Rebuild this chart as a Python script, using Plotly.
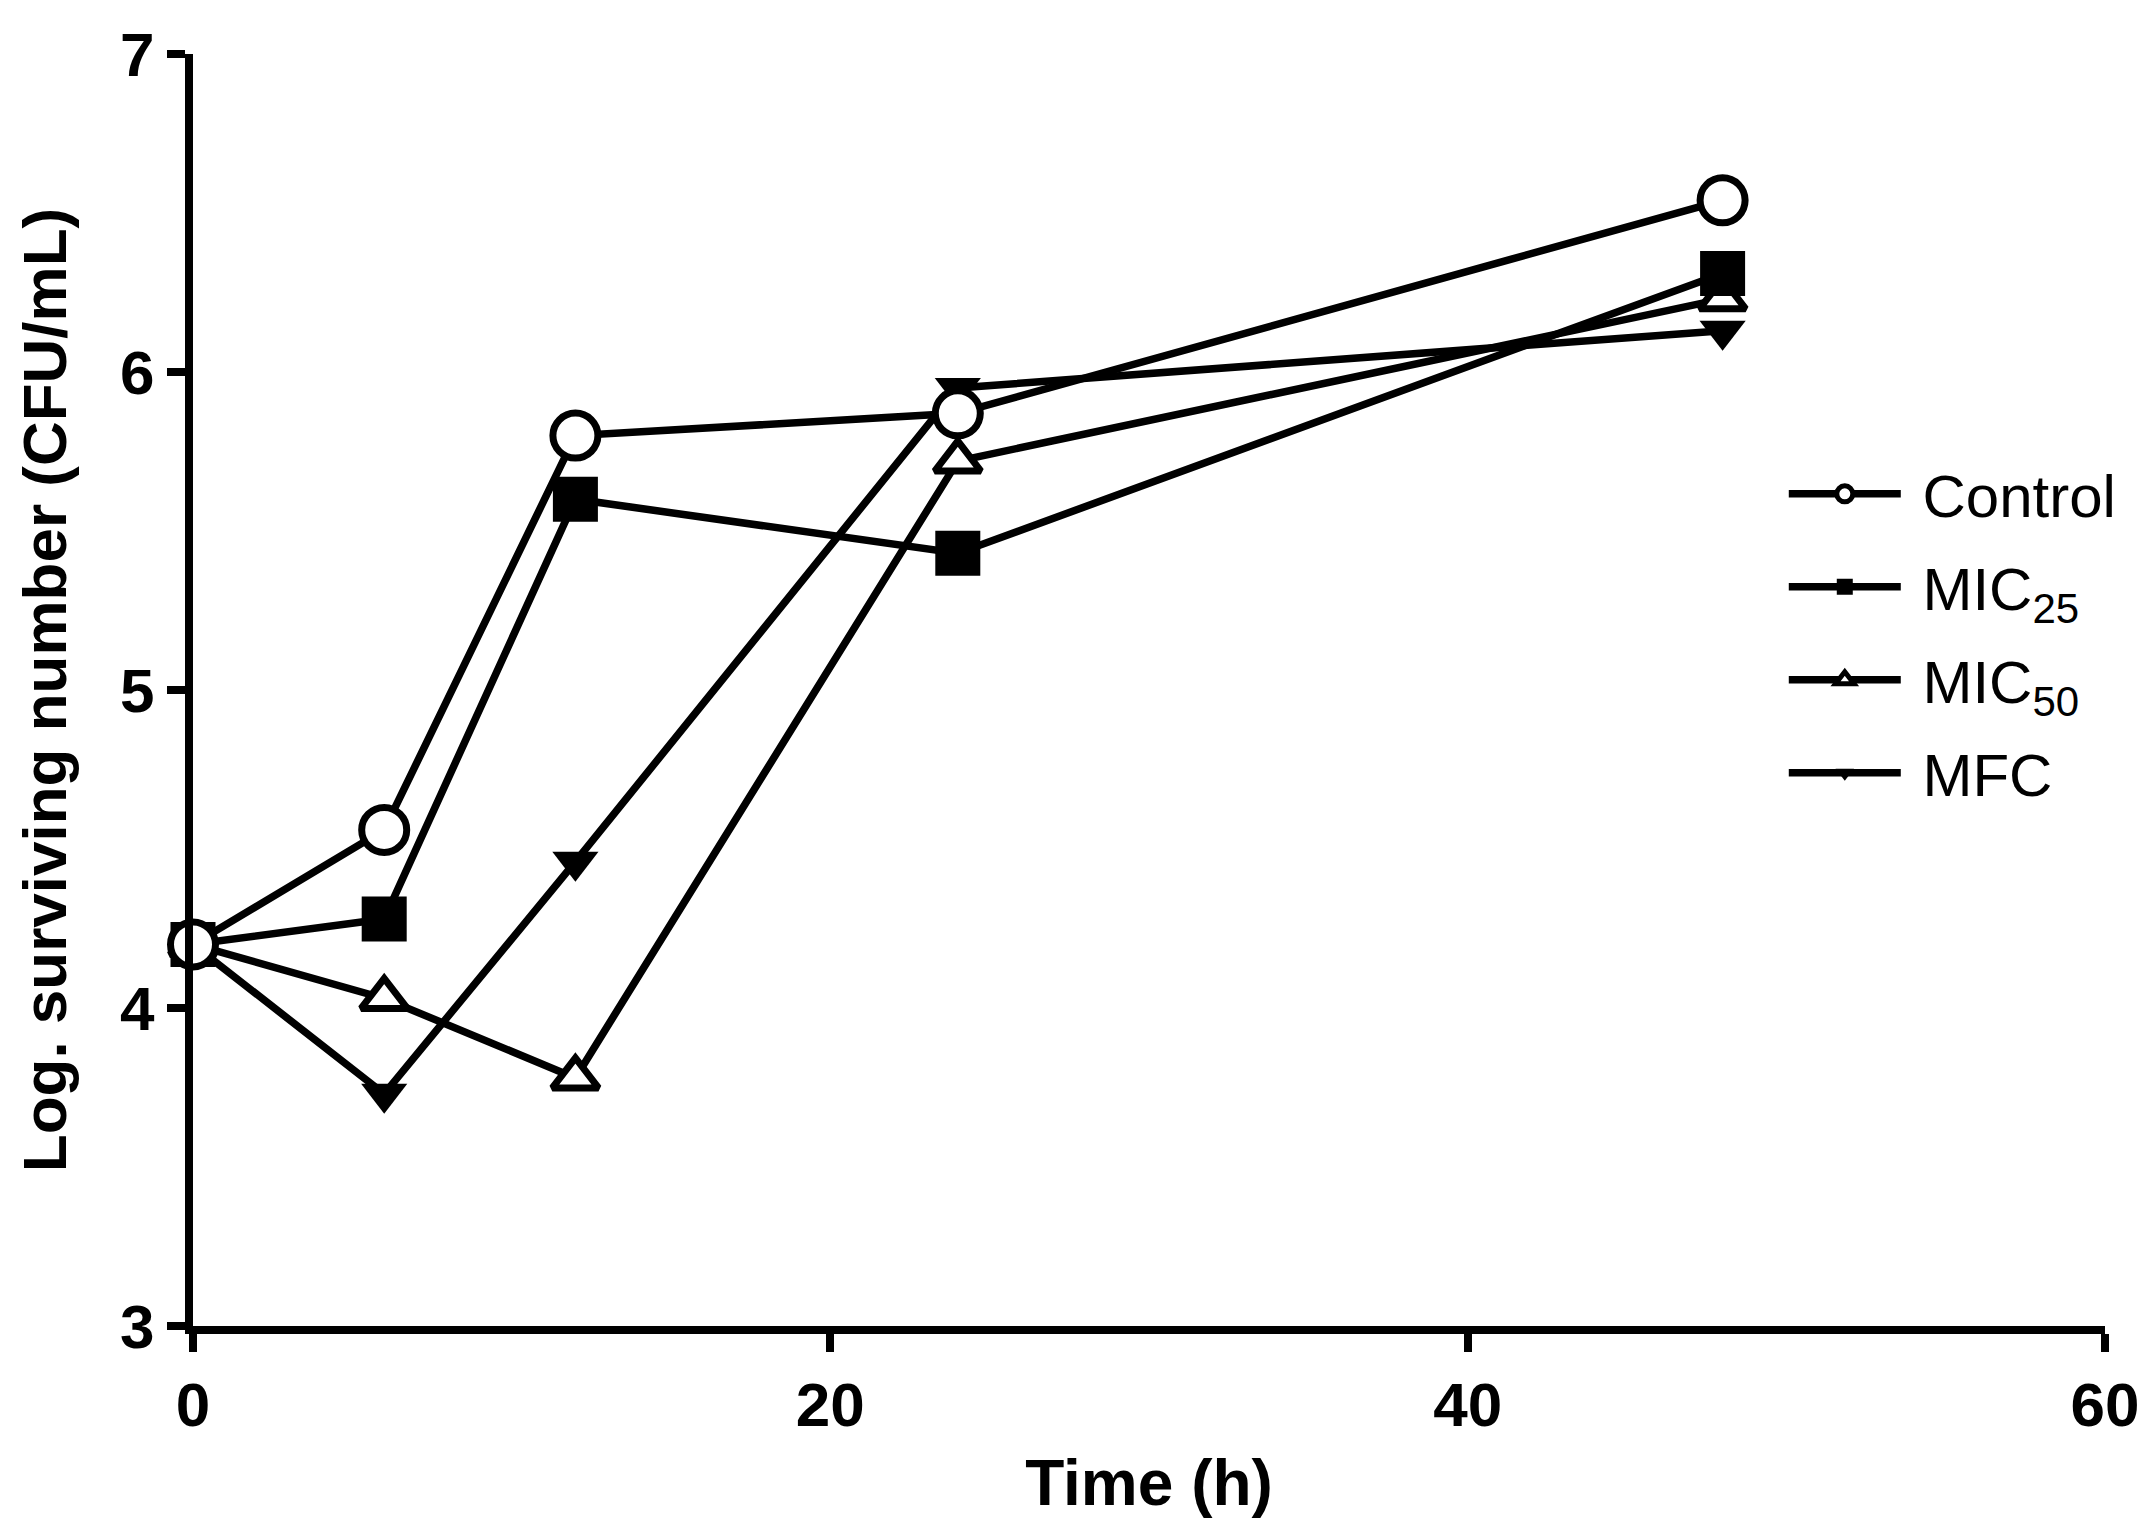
import plotly.graph_objects as go

# time points (h)
time_h = [0, 6, 12, 24, 48]

# log surviving number (CFU/mL)
control = [4.20, 4.56, 5.80, 5.87, 6.54]
mic25 = [4.20, 4.28, 5.60, 5.43, 6.31]
mic50 = [4.20, 4.03, 3.78, 5.72, 6.23]
mfc = [4.20, 3.73, 4.46, 5.95, 6.13]

series_names = ['Control', 'MIC<sub>25</sub>', 'MIC<sub>50</sub>', 'MFC']

x_ticks = [0, 20, 40, 60]
y_ticks = [3, 4, 5, 6, 7]

bold_font = 'Liberation Sans Narrow, Arial Narrow, Liberation Sans, Arial, sans-serif'
title_font = 'Liberation Sans, Arial, sans-serif'

fig = go.Figure()

# draw order: MFC first, Control last (Control markers sit on top)
styles = [
    (mfc, series_names[3], dict(symbol='triangle-down', size=40, color='black',
                                line=dict(width=0, color='black')), 4),
    (mic50, series_names[2], dict(symbol='triangle-up', size=40, color='white',
                                  line=dict(width=7, color='black')), 3),
    (mic25, series_names[1], dict(symbol='square', size=45, color='black',
                                  line=dict(width=0, color='black')), 2),
    (control, series_names[0], dict(symbol='circle', size=45, color='white',
                                    line=dict(width=7, color='black')), 1),
]

for vals, name, marker, rank in styles:
    fig.add_trace(go.Scatter(
        x=time_h,
        y=vals,
        mode='lines+markers',
        name='\u00a0' + name,
        legendrank=rank,
        legendgroup=name,
        line=dict(color='black', width=7.5),
        marker=marker,
        cliponaxis=False,
    ))

fig.update_layout(
    width=2147,
    height=1520,
    paper_bgcolor='white',
    plot_bgcolor='white',
    margin=dict(l=185, r=50, t=44, b=202),
    showlegend=True,
    legend=dict(
        x=0.832, y=0.69,
        xanchor='left', yanchor='top',
        font=dict(family=title_font, size=60, color='black'),
        itemwidth=112,
        tracegroupgap=12,
        bgcolor='rgba(0,0,0,0)',
    ),
    xaxis=dict(
        range=[0, 60],
        tickvals=x_ticks,
        showgrid=False,
        zeroline=False,
        showline=True,
        linecolor='black',
        linewidth=8,
        ticks='outside',
        ticklen=18,
        tickwidth=8,
        tickcolor='black',
        tickfont=dict(family=bold_font, size=62, color='black', weight='bold'),
        title=dict(text='Time (h)', standoff=25,
                   font=dict(family=bold_font, size=64, color='black', weight='bold')),
    ),
    yaxis=dict(
        range=[3, 7],
        tickvals=y_ticks,
        showgrid=False,
        zeroline=False,
        showline=True,
        linecolor='black',
        linewidth=8,
        ticks='outside',
        ticklen=18,
        tickwidth=8,
        tickcolor='black',
        tickfont=dict(family=bold_font, size=62, color='black', weight='bold'),
        title=dict(text='Log. surviving number (CFU/mL)', standoff=36,
                   font=dict(family=title_font, size=62, color='black', weight='bold')),
    ),
)

fig.write_html("out.html")
